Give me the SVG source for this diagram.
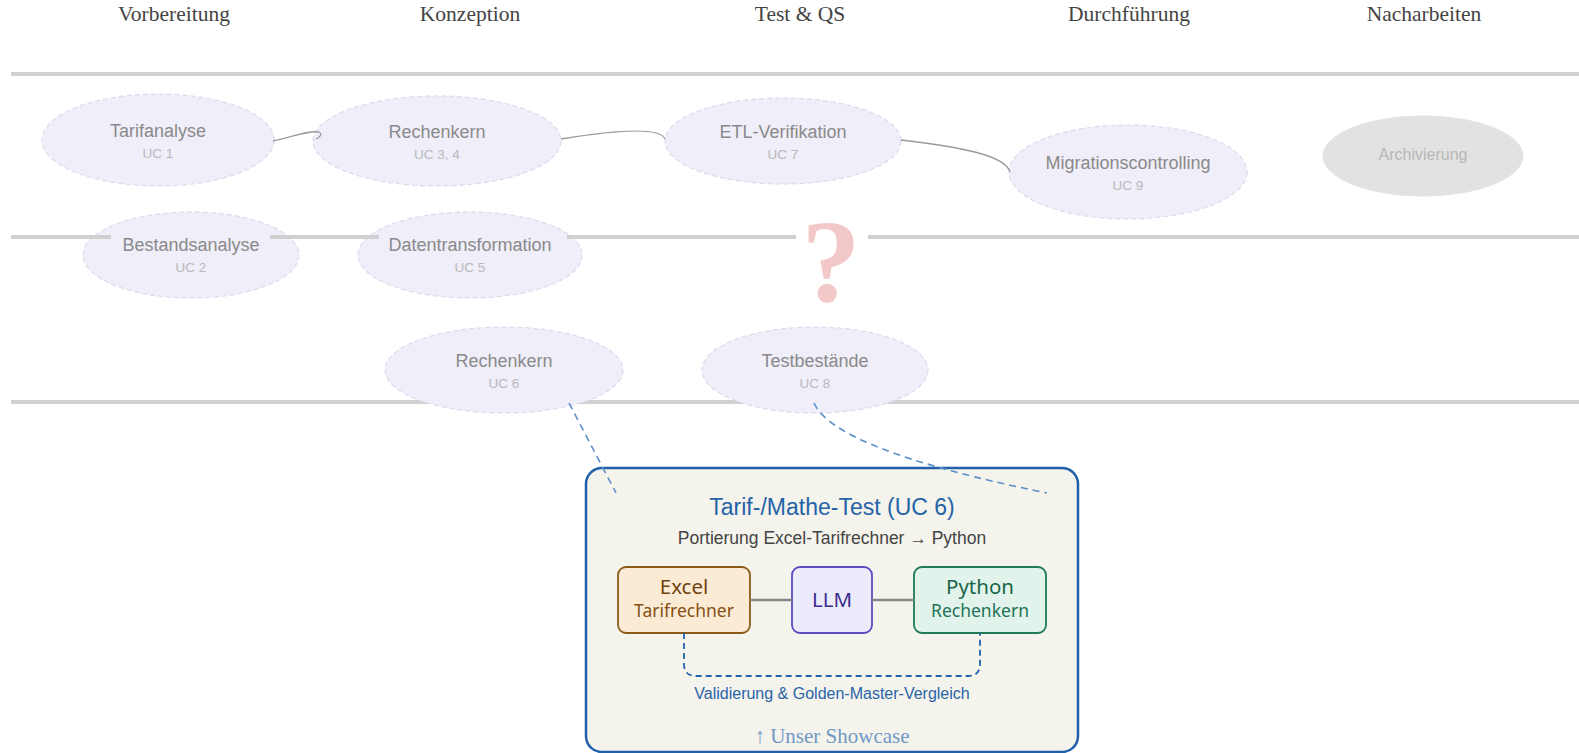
<svg xmlns="http://www.w3.org/2000/svg" width="1579" height="753" viewBox="0 0 1579 753">
<style>
.hdr{font-family:"Liberation Serif",serif;font-size:21.5px;fill:#444;text-anchor:middle}
.lane{stroke:#d0d0d0;stroke-width:4;fill:none}
.uc ellipse{fill:#efeef9;stroke:#dcdaee;stroke-width:1.2;stroke-dasharray:5 3}
.t{font-family:"Liberation Sans",Arial,sans-serif;font-size:18px;fill:#8a8a8a;text-anchor:middle}
.s{font-family:"Liberation Sans",Arial,sans-serif;font-size:13.5px;fill:#b9b9b9;text-anchor:middle}
.flow{fill:none;stroke:#9a9a9a;stroke-width:1.3}
.link{fill:none;stroke:#5b8fc9;stroke-width:1.6;stroke-dasharray:7 5}
.bt{font-family:"Noto Sans","Open Sans",sans-serif;text-anchor:middle}
.sans{font-family:"Liberation Sans",Arial,sans-serif;text-anchor:middle}
</style>
<rect width="1579" height="753" fill="#ffffff"/>
<g id="headers">
<text class="hdr" x="174" y="21">Vorbereitung</text>
<text class="hdr" x="470" y="21">Konzeption</text>
<text class="hdr" x="800" y="21">Test &amp; QS</text>
<text class="hdr" x="1129" y="21">Durchführung</text>
<text class="hdr" x="1424" y="21">Nacharbeiten</text>
</g>
<g id="lanes">
<line class="lane" x1="11" y1="74" x2="1579" y2="74"/>
<line class="lane" x1="11" y1="402" x2="1579" y2="402"/>
</g>
<g id="uc1" class="uc"><ellipse cx="158" cy="140" rx="116" ry="46"/><text class="t" x="158" y="137">Tarifanalyse</text><text class="s" x="158" y="158">UC 1</text></g>
<g id="uc34" class="uc"><ellipse cx="437" cy="141" rx="124" ry="45"/><text class="t" x="437" y="138">Rechenkern</text><text class="s" x="437" y="159">UC 3, 4</text></g>
<g id="uc7" class="uc"><ellipse cx="783" cy="141" rx="118" ry="43"/><text class="t" x="783" y="138">ETL-Verifikation</text><text class="s" x="783" y="159">UC 7</text></g>
<g id="uc9" class="uc"><ellipse cx="1128" cy="172" rx="119" ry="47"/><text class="t" x="1128" y="169">Migrationscontrolling</text><text class="s" x="1128" y="190">UC 9</text></g>
<g id="archiv"><ellipse cx="1423" cy="156" rx="100" ry="40" fill="#e2e2e2" stroke="#e4e4e4" stroke-width="1"/><text class="t" x="1423" y="160" style="fill:#b8b8b8;font-size:16px">Archivierung</text></g>
<g id="uc2" class="uc"><ellipse cx="191" cy="255" rx="108" ry="43"/></g>
<g id="uc5" class="uc"><ellipse cx="470" cy="255" rx="112" ry="43"/></g>
<g id="lane-mid">
<line class="lane" x1="11" y1="237" x2="111" y2="237"/>
<line class="lane" x1="270" y1="237" x2="379" y2="237"/>
<line class="lane" x1="567" y1="237" x2="796" y2="237"/>
<line class="lane" x1="868" y1="237" x2="1579" y2="237"/>
</g>
<g id="uc2-text"><text class="t" x="191" y="251">Bestandsanalyse</text><text class="s" x="191" y="272">UC 2</text></g>
<g id="uc5-text"><text class="t" x="470" y="251">Datentransformation</text><text class="s" x="470" y="272">UC 5</text></g>
<g id="question"><text x="831" y="301" font-family="Liberation Serif,serif" font-weight="bold" font-size="118" fill="#f3c8c8" text-anchor="middle">?</text></g>
<g id="uc6" class="uc"><ellipse cx="504" cy="370" rx="119" ry="43"/><text class="t" x="504" y="367">Rechenkern</text><text class="s" x="504" y="388">UC 6</text></g>
<g id="uc8" class="uc"><ellipse cx="815" cy="370" rx="113" ry="43"/><text class="t" x="815" y="367">Testbestände</text><text class="s" x="815" y="388">UC 8</text></g>
<g id="showcase">
<rect x="586" y="468" width="492" height="284" rx="16" fill="#f4f3ec" stroke="#2060a8" stroke-width="2.5"/>
<text class="sans" x="832" y="515" font-size="23" fill="#2563a8">Tarif-/Mathe-Test (UC 6)</text>
<text class="sans" x="832" y="544" font-size="17.5" fill="#444">Portierung Excel-Tarifrechner → Python</text>
<text class="sans" x="832" y="699" font-size="16" fill="#2a64a8">Validierung &amp; Golden-Master-Vergleich</text>
<text x="832" y="743" font-family="Liberation Serif,serif" font-size="21" fill="#7199c6" text-anchor="middle">↑ Unser Showcase</text>
</g>
<g id="excel"><rect x="618" y="567" width="132" height="66" rx="8" fill="#fcebd4" stroke="#8a5a1a" stroke-width="1.8"/><text class="bt" x="684" y="594" font-size="20.5" fill="#6e4410">Excel</text><text class="bt" x="684" y="617" font-size="17.5" fill="#845014">Tarifrechner</text></g>
<g id="llm"><rect x="792" y="567" width="80" height="66" rx="8" fill="#ecebfb" stroke="#5b4cc0" stroke-width="1.8"/><text class="bt" x="832" y="607" font-size="20.5" fill="#3a2e90">LLM</text></g>
<g id="python"><rect x="914" y="567" width="132" height="66" rx="8" fill="#e2f3ec" stroke="#1e7a58" stroke-width="1.8"/><text class="bt" x="980" y="594" font-size="20.5" fill="#1a6548">Python</text><text class="bt" x="980" y="617" font-size="17.5" fill="#1e7456">Rechenkern</text></g>
<g id="connectors">
<path class="flow" d="M273 141 C295 136 310 130 319 132 C323 134 319 138 316 139"/>
<path class="flow" d="M561 139 C610 131 660 126 665 139"/>
<path class="flow" d="M901 140 C960 147 1005 155 1010 172"/>
<path class="link" d="M569 403 L616 493"/>
<path class="link" d="M814 403 Q835 450 1047 493"/>
<line x1="750" y1="600" x2="792" y2="600" stroke="#888" stroke-width="2.5"/>
<line x1="872" y1="600" x2="914" y2="600" stroke="#888" stroke-width="2.5"/>
<path d="M684 633 V664 Q684 676 696 676 H968 Q980 676 980 664 V633" fill="none" stroke="#2063ad" stroke-width="1.8" stroke-dasharray="6 4"/>
</g>
</svg>
